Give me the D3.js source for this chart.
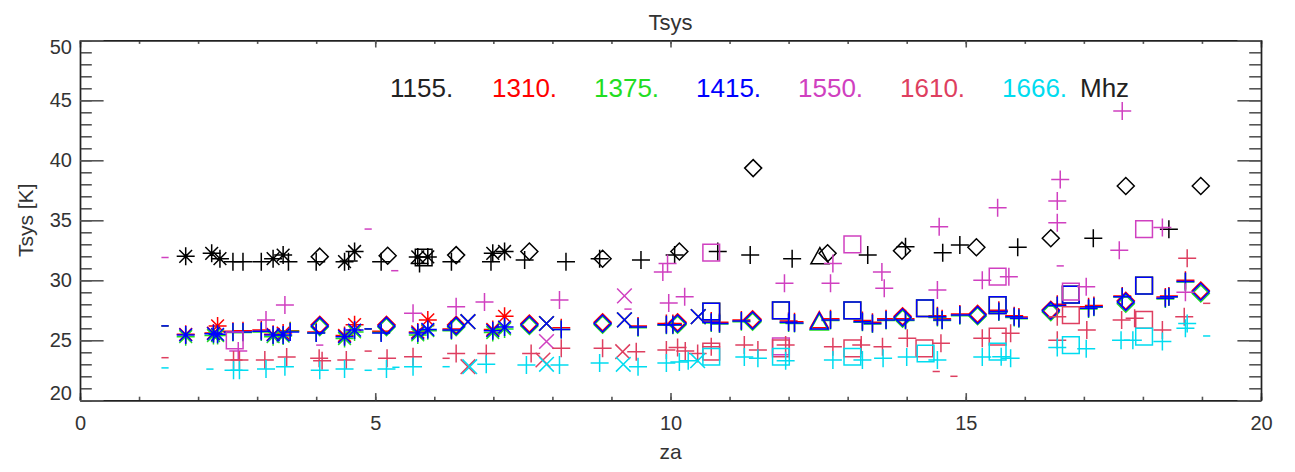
<!DOCTYPE html>
<html><head><meta charset="utf-8">
<script src="https://cdn.jsdelivr.net/npm/d3@7"></script>
<style>body{margin:0;background:#fff} text{font-family:"Liberation Sans",Arial,sans-serif}</style>
</head><body><svg id="c" width="1295" height="472"></svg>
<script>
// ---------- data ----------
const xTicks = [0, 5, 10, 15, 20];
const yTicks = [20, 25, 30, 35, 40, 45, 50];
const freqLabels = ["1155.", "1310.", "1375.", "1415.", "1550.", "1610.", "1666."];
const unitLabel = "Mhz";
const seriesColors = ["#000000", "#ff0000", "#22dd22", "#0000ff", "#d040c0", "#de3f60", "#00dcf0"];
// symbols: p plus, a asterisk, d diamond, t triangle, s square, x cross, m dash
const s1155 = [[1.79,32.0,"a"],[2.23,32.25,"a"],[2.37,31.8,"a"],[2.59,31.55,"p"],[2.76,31.55,"p"],[3.07,31.55,"p"],
  [3.27,31.8,"a"],[3.44,32.1,"a"],[3.53,31.55,"p"],[4.0,31.55,"p"],[4.06,31.97,"d"],[4.48,31.55,"a"],[4.65,32.4,"a"],
  [4.55,31.6,"p"],[5.1,31.55,"p"],[5.21,32.05,"d"],[5.72,31.95,"a"],[5.82,31.9,"s"],[5.89,31.95,"a"],[5.75,31.4,"p"],
  [6.29,31.55,"p"],[6.37,32.1,"d"],[6.96,31.55,"p"],[6.99,32.25,"a"],[7.19,32.4,"a"],[7.53,31.7,"p"],[7.61,32.4,"d"],
  [8.23,31.55,"p"],[8.8,31.8,"p"],[8.85,31.8,"d"],[9.5,31.7,"p"],[10.07,32.1,"p"],[10.15,32.4,"d"],[10.8,32.4,"p"],
  [11.35,32.1,"p"],[11.4,39.35,"d"],[12.06,31.8,"p"],[12.53,31.97,"t"],[12.66,32.25,"d"],[13.34,32.1,"p"],
  [13.92,32.47,"d"],[13.98,32.8,"p"],[14.61,32.3,"p"],[14.9,32.94,"p"],[15.18,32.75,"d"],[15.88,32.75,"p"],
  [16.44,33.5,"d"],[17.16,33.5,"p"],[17.71,37.86,"d"],[18.44,34.25,"p"],[18.98,37.86,"d"]];
const zaRGB = [1.44,1.79,2.26,2.33,2.59,2.76,3.07,3.27,3.44,3.56,4.0,4.06,4.48,4.65,4.88,5.1,5.19,5.72,5.89,6.29,
  6.37,6.57,6.99,7.19,7.61,7.9,8.15,8.85,9.22,9.45,9.93,10.04,10.12,10.47,10.69,10.69,10.83,11.2,11.39,11.87,
  12.0,12.1,12.52,12.71,13.08,13.25,13.42,13.65,13.93,13.98,14.31,14.52,14.6,14.9,15.2,15.54,15.56,15.82,15.9,
  16.44,16.55,16.78,17.08,17.17,17.65,17.71,18.02,18.38,18.44,18.72,18.98];
const symRGB = ["m","a","a","a","p","p","p","a","a","p","p","d","a","a","m","p","d","a","a","p",
  "d","x","a","a","d","x","p","d","x","p","p","p","d","x","s","p","p","p","d","s",
  "p","p","t","p","s","p","p","p","d","p","s","p","p","p","d","s","p","p","p",
  "d","p","s","p","p","p","d","s","p","p","p","d"];
const t1310 = [26.2,25.5,25.6,26.2,25.75,25.8,25.85,25.5,25.6,25.8,25.7,26.3,25.4,26.3,25.95,25.75,26.3,25.7,26.7,25.95,
  26.3,26.55,25.9,27.0,26.4,26.4,26.05,26.5,26.7,26.2,26.4,26.4,26.5,26.97,27.4,26.6,26.5,26.7,26.75,27.5,
  26.6,26.55,26.65,26.8,27.5,26.65,26.5,26.8,27.0,26.8,27.67,27.05,26.8,27.2,27.2,27.94,27.5,27.05,26.95,
  27.55,28.0,28.8,27.8,27.9,28.7,28.3,29.55,28.6,28.7,30.0,29.15];
const t1375 = [26.2,25.3,25.4,25.4,25.65,25.65,25.7,25.3,25.35,25.75,25.6,26.1,25.15,25.7,25.95,25.65,26.1,25.45,25.8,25.8,
  26.1,26.55,25.65,25.95,26.2,26.4,25.9,26.3,26.7,26.05,26.25,26.25,26.3,26.97,27.4,26.45,26.35,26.55,26.55,27.5,
  26.45,26.4,26.45,26.65,27.5,26.5,26.35,26.65,26.8,26.65,27.67,26.9,26.65,27.05,27.0,27.94,27.35,26.9,26.8,
  27.35,27.85,28.8,27.6,27.75,28.6,28.05,29.55,28.45,28.6,29.85,28.9];
const t1415 = [26.2,25.45,25.55,25.5,25.7,25.7,25.75,25.45,25.45,25.7,25.6,26.2,25.3,25.85,25.95,25.6,26.2,25.6,25.9,25.85,
  26.2,26.55,25.8,26.1,26.3,26.4,25.9,26.4,26.7,26.1,26.3,26.3,26.4,26.97,27.4,26.5,26.4,26.6,26.65,27.5,
  26.5,26.45,26.55,26.7,27.5,26.55,26.4,26.7,26.9,26.7,27.67,26.97,26.7,27.1,27.1,27.94,27.4,26.97,26.83,
  27.47,27.9,28.8,27.67,27.8,28.63,28.2,29.55,28.5,28.63,29.9,29.05];
const s1550 = [[1.44,31.9,"m"],[2.62,25.0,"s"],[2.68,24.1,"p"],[3.15,26.7,"p"],[3.47,27.94,"p"],[4.06,24.6,"m"],
  [4.88,34.27,"m"],[5.33,30.8,"m"],[5.64,27.25,"p"],[6.37,27.8,"p"],[6.85,28.2,"p"],[7.9,24.9,"x"],[8.12,28.36,"p"],
  [9.22,28.7,"x"],[9.28,27.6,"m"],[9.87,30.7,"p"],[9.95,31.4,"p"],[9.97,28.1,"p"],[10.24,28.63,"p"],[10.69,32.3,"s"],
  [11.87,24.5,"s"],[11.93,29.75,"p"],[12.71,29.75,"p"],[12.75,31.4,"p"],[13.08,33.0,"s"],[13.58,30.7,"p"],
  [13.62,29.33,"p"],[14.52,29.2,"p"],[14.55,34.47,"p"],[15.28,30.0,"p"],[15.54,30.3,"s"],[15.73,30.3,"p"],
  [15.54,36.05,"p"],[16.55,34.8,"p"],[16.55,36.6,"p"],[16.6,38.4,"p"],[16.6,31.2,"m"],[16.78,29.05,"s"],
  [17.04,29.47,"p"],[17.6,32.5,"p"],[17.65,44.1,"p"],[18.02,34.27,"s"],[18.33,34.4,"p"],[18.72,29.0,"p"]];
const s1610 = [[1.44,23.55,"m"],[2.6,23.36,"p"],[2.7,23.36,"p"],[3.13,23.36,"p"],[3.5,23.6,"p"],[4.05,23.5,"p"],
  [4.1,23.3,"p"],[4.51,23.36,"p"],[4.88,24.1,"m"],[5.2,23.5,"p"],[5.64,23.63,"p"],[6.2,23.5,"m"],[6.37,23.9,"p"],
  [6.57,22.8,"x"],[6.88,23.9,"p"],[7.64,23.9,"p"],[7.84,23.36,"x"],[8.15,24.33,"p"],[8.85,24.33,"p"],[9.19,24.05,"x"],
  [9.42,24.05,"p"],[9.93,24.2,"p"],[10.12,24.4,"p"],[10.25,24.1,"p"],[10.46,23.9,"p"],[10.69,24.47,"p"],
  [10.69,24.05,"s"],[11.25,24.6,"p"],[11.48,24.2,"p"],[11.87,24.33,"s"],[11.95,24.6,"p"],[12.75,24.47,"p"],
  [13.08,24.33,"s"],[13.23,24.6,"p"],[13.59,24.47,"p"],[14.01,25.17,"p"],[14.3,24.33,"s"],[14.5,22.4,"m"],
  [14.58,24.75,"p"],[14.8,22.0,"m"],[15.28,25.17,"p"],[15.54,25.3,"s"],[15.76,25.58,"p"],[16.55,26.97,"p"],
  [16.55,25.0,"p"],[16.78,27.1,"s"],[17.05,25.86,"p"],[17.64,26.7,"p"],[17.86,26.83,"p"],[18.02,26.7,"s"],
  [18.33,25.86,"p"],[18.7,26.97,"p"],[18.75,31.83,"p"],[19.08,28.08,"m"]];
const s1666 = [[1.44,22.7,"m"],[2.2,22.6,"m"],[2.6,22.5,"p"],[2.7,22.5,"p"],[3.15,22.6,"p"],[3.47,22.8,"p"],
  [4.06,22.5,"p"],[4.48,22.6,"p"],[4.88,22.5,"m"],[5.19,22.6,"p"],[5.35,22.75,"m"],[5.64,22.8,"p"],[6.2,22.8,"m"],
  [6.6,22.8,"x"],[6.88,23.0,"p"],[7.56,22.94,"p"],[7.9,23.0,"x"],[8.12,22.94,"p"],[8.8,23.1,"p"],[9.2,23.0,"x"],
  [9.45,22.8,"p"],[9.93,23.1,"p"],[10.15,23.2,"p"],[10.3,23.3,"p"],[10.46,23.3,"x"],[10.69,23.63,"s"],
  [11.25,23.6,"p"],[11.48,23.5,"p"],[11.87,23.63,"s"],[11.95,23.3,"p"],[12.75,23.36,"p"],[13.08,23.63,"s"],
  [13.25,23.36,"p"],[13.6,23.5,"p"],[14.0,23.6,"p"],[14.32,23.9,"s"],[14.52,23.36,"p"],[15.28,23.6,"p"],
  [15.54,24.05,"s"],[15.6,23.63,"p"],[15.76,23.5,"p"],[16.55,24.4,"p"],[16.78,24.6,"s"],[17.04,24.3,"p"],
  [17.63,25.0,"p"],[17.83,25.0,"p"],[18.02,25.3,"s"],[18.33,24.9,"p"],[18.72,26.0,"p"],[18.75,26.4,"p"],
  [19.08,25.36,"m"]];

// ---------- build ----------
const rgbSeries = (t) => zaRGB.map((z, i) => [z, t[i], symRGB[i]]);
const allSeries = [s1155, rgbSeries(t1310), rgbSeries(t1375), rgbSeries(t1415), s1550, s1610, s1666];

const W = 1295, H = 472;
const m = {left: 80, right: 1261, top: 40.3, bottom: 400.3};
const x = d3.scaleLinear().domain([0, 20]).range([m.left, m.right]);
const y = d3.scaleLinear().domain([20, 50]).range([m.bottom, m.top]);
const svg = d3.select("#c");
const axisColor = "#555";

function symPath(s, r) {
  const q = r * 0.7071;
  switch (s) {
    case "p": return `M${-r},0H${r}M0,${-r}V${r}`;
    case "a": return `M${-r},0H${r}M0,${-r}V${r}M${-q},${-q}L${q},${q}M${-q},${q}L${q},${-q}`;
    case "d": return `M0,${-r}L${r},0L0,${r}L${-r},0Z`;
    case "t": return `M0,${-r}L${r},${r*0.8}L${-r},${r*0.8}Z`;
    case "s": return `M${-r*0.88},${-r*0.88}H${r*0.88}V${r*0.88}H${-r*0.88}Z`;
    case "x": return `M${-q*1.15},${-q*1.15}L${q*1.15},${q*1.15}M${-q*1.15},${q*1.15}L${q*1.15},${-q*1.15}`;
    case "m": return `M-3.6,0H3.6`;
  }
}
const symSize = {p: 9, a: 9, d: 8.5, t: 9, s: 9.5, x: 9, m: 4};

// points
const gPts = svg.append("g");
allSeries.forEach((series, k) => {
  gPts.append("g").selectAll("path").data(series).join("path")
    .attr("transform", d => `translate(${x(d[0])},${y(d[1])})`)
    .attr("d", d => symPath(d[2], symSize[d[2]]))
    .attr("fill", "none").attr("stroke", seriesColors[k]).attr("stroke-width", 1.5);
});

// axes with major/minor ticks (inward)
const minorX = d3.range(0, 21, 1), minorY = d3.range(20, 51, 1);
function addAxis(gen, transform, labels) {
  const g = svg.append("g").attr("transform", transform).call(gen);
  g.selectAll("line").attr("stroke", axisColor).attr("stroke-width", 1.6);
  g.select(".domain").attr("stroke", "#222").attr("stroke-width", 1.4);
  g.selectAll("text").attr("fill", "#333").style("font-size", "20px");
  if (!labels) g.selectAll("text").remove();
  return g;
}
const xLen = 7.2, yLen = 23.6;
// minor
addAxis(d3.axisBottom(x).tickValues(minorX).tickSize(-xLen / 2).tickSizeOuter(0), `translate(0,${m.bottom})`, false);
addAxis(d3.axisTop(x).tickValues(minorX).tickSize(-xLen / 2).tickSizeOuter(0), `translate(0,${m.top})`, false);
addAxis(d3.axisLeft(y).tickValues(minorY).tickSize(-yLen / 2).tickSizeOuter(0), `translate(${m.left},0)`, false);
addAxis(d3.axisRight(y).tickValues(minorY).tickSize(-yLen / 2).tickSizeOuter(0), `translate(${m.right},0)`, false);
// major
const gx = addAxis(d3.axisBottom(x).tickValues(xTicks).tickFormat(d3.format("d")).tickSize(-xLen).tickSizeOuter(0).tickPadding(16), `translate(0,${m.bottom})`, true);
addAxis(d3.axisTop(x).tickValues(xTicks).tickSize(-xLen).tickSizeOuter(0), `translate(0,${m.top})`, false);
const gy = addAxis(d3.axisLeft(y).tickValues(yTicks).tickFormat(d3.format("d")).tickSize(-yLen).tickSizeOuter(0).tickPadding(8), `translate(${m.left},0)`, true);
addAxis(d3.axisRight(y).tickValues(yTicks).tickSize(-yLen).tickSizeOuter(0), `translate(${m.right},0)`, false);
// keep end labels inside the plot box vertically
gy.selectAll(".tick text").attr("transform", d => {
  const py = y(d), h = 7;
  const c = Math.min(Math.max(py, m.top + h), m.bottom - h);
  return `translate(0,${c - py})`;
});

// titles
svg.append("text").attr("x", (m.left + m.right) / 2).attr("y", 30).attr("text-anchor", "middle")
  .attr("fill", "#333").style("font-size", "22px").text("Tsys");
svg.append("text").attr("transform", `translate(33,${(m.top + m.bottom) / 2}) rotate(-90)`).attr("text-anchor", "middle")
  .attr("fill", "#333").style("font-size", "21px").text("Tsys [K]");
svg.append("text").attr("x", (m.left + m.right) / 2).attr("y", 459).attr("text-anchor", "middle")
  .attr("fill", "#333").style("font-size", "21px").text("za");

// frequency legend
const leg = svg.append("g").attr("transform", "translate(390,97)");
freqLabels.forEach((t, i) => {
  leg.append("text").attr("x", i * 102).attr("y", 0).attr("fill", i === 0 ? "#222" : seriesColors[i])
    .style("font-size", "26px").text(t);
});
leg.append("text").attr("x", 7 * 102 - 24).attr("y", 0).attr("fill", "#222").style("font-size", "26px").text(unitLabel);
</script></body></html>
